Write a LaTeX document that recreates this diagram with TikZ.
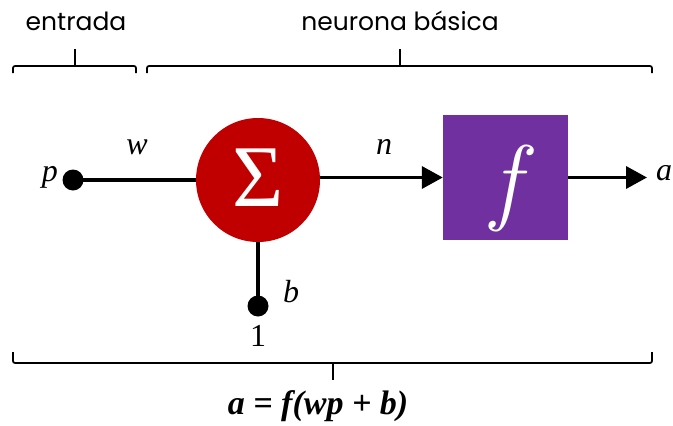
\documentclass[tikz,border=0pt]{standalone}
\usepackage{fontspec}
\setmainfont{Liberation Serif}
\newfontfamily\labelsans{Poppins}
\newfontfamily\lmfont{Latin Modern Roman}
\usetikzlibrary{arrows.meta}
\definecolor{sumred}{HTML}{C00000}
\definecolor{actpurple}{HTML}{7030A0}
\begin{document}
\begin{tikzpicture}[x=1pt,y=-1pt,
  wire/.style={line width=3.6pt},
  arrowwire/.style={line width=3.6pt,-{Triangle[length=21pt,width=22pt]}},
  brace/.style={line width=1.7pt,rounded corners=2pt},
  dotnode/.style={circle,fill=black,inner sep=0pt,minimum size=21pt},
  varlabel/.style={font=\fontsize{32}{36}\selectfont\itshape,inner sep=0pt},
  toplabel/.style={font=\labelsans\fontsize{25}{28}\selectfont,inner sep=0pt}]
\useasboundingbox (0,0) rectangle (673,426);
% top labels
\node[toplabel] (tin) at (76,21) {entrada};
\node[toplabel] (tneu) at (400,21) {neurona básica};
% top braces
\draw[brace] (13,73) -- (13,66) -- (136,66) -- (136,73);
\draw[line width=1.7pt] (75,66) -- (75,49);
\draw[brace] (147,73) -- (147,66) -- (652,66) -- (652,73);
\draw[line width=1.7pt] (400,66) -- (400,49);
% main components
\node[dotnode] (p) at (73,180) {};
\node[varlabel,anchor=east] (plab) at (58,177) {p};
\node[circle,fill=sumred,minimum size=124pt,inner sep=0pt] (sum) at (258,180) {};
\node[text=white,font=\fontsize{88}{90}\selectfont,inner sep=0pt] (sigma) at (258,178) {Σ};
\node[dotnode] (one) at (258,306) {};
\node[varlabel] (blab) at (291,292) {b};
\node[font=\fontsize{32}{36}\selectfont,inner sep=0pt] (onelab) at (258,336) {1};
\node[varlabel] (wlab) at (137,147) {w};
\node[varlabel] (nlab) at (384,147) {n};
\node[fill=actpurple,minimum width=125pt,minimum height=125pt,inner sep=0pt] (act) at (505.5,177.5) {};
\node[text=white,font=\lmfont\fontsize{96}{100}\selectfont\itshape,inner sep=0pt] (flab) at (506,188) {f};
\coordinate (out) at (647,177.5);
\node[varlabel,anchor=west] (alab) at (656,173) {a};
% connectors
\draw[wire] (p.center) -- (sum.west);
\draw[wire] (sum.south) -- (one.center);
\draw[arrowwire] (sum.east |- act.west) -- (act.west);
\draw[arrowwire] (act.east) -- (out);
% bottom brace
\draw[brace] (13,352) -- (13,363) -- (652,363) -- (652,352);
\draw[line width=1.7pt] (333,363) -- (333,380);
\node[font=\fontsize{34}{38}\selectfont\bfseries\itshape,inner sep=0pt] (formula) at (318,406) {a = f(wp + b)};
\end{tikzpicture}
\end{document}
